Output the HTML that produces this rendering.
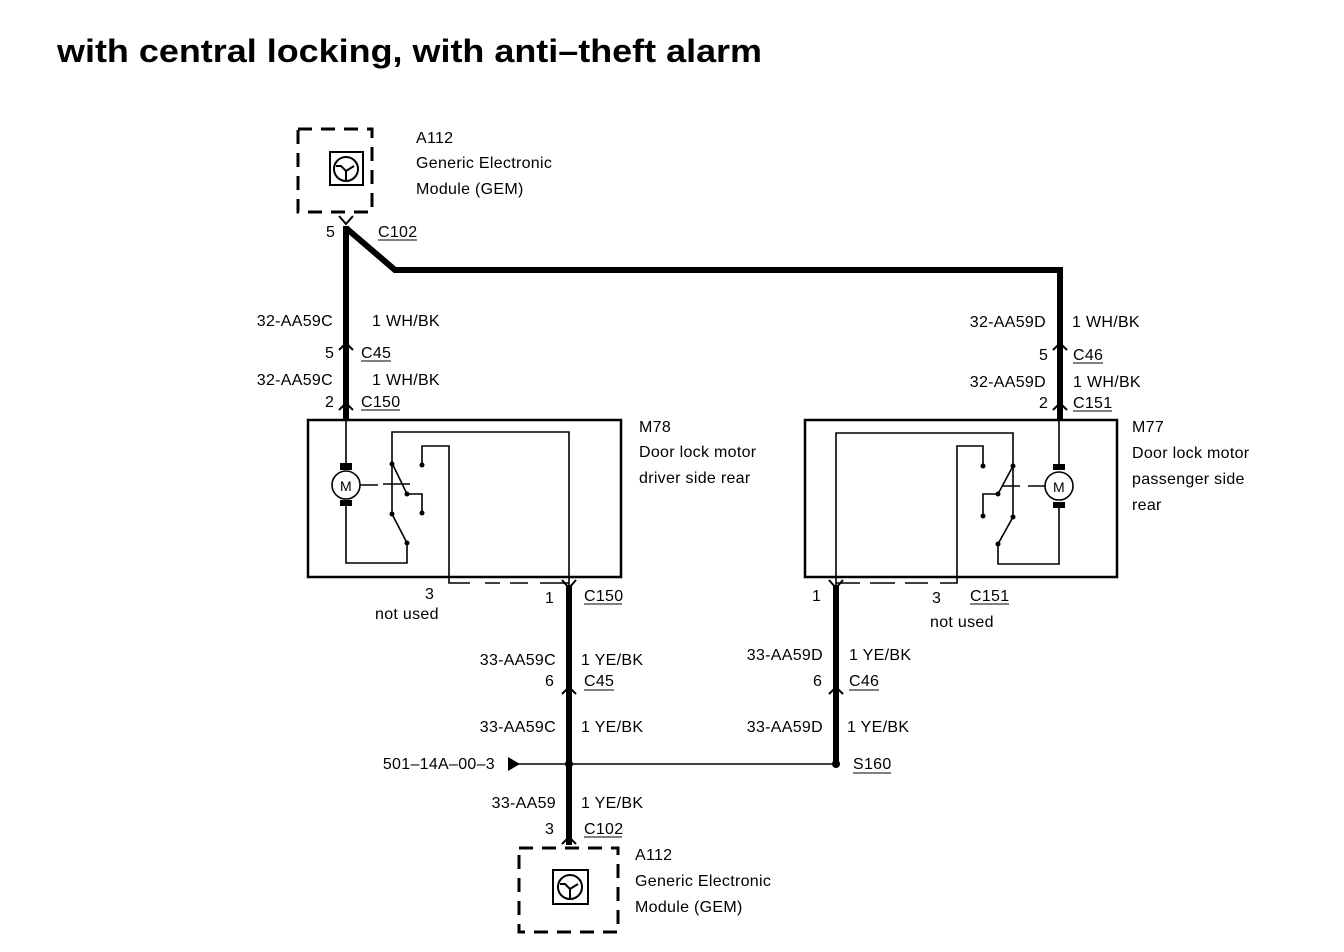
<!DOCTYPE html>
<html><head><meta charset="utf-8"><style>
html,body{margin:0;padding:0;background:#fff;}
svg{display:block}
text{font-family:"Liberation Sans",sans-serif;font-size:16px;letter-spacing:0.3px;fill:#000}
.t{font-size:32px;font-weight:bold;letter-spacing:0}
</style></head><body>
<svg width="1344" height="952" viewBox="0 0 1344 952" xmlns="http://www.w3.org/2000/svg">
<text class="t" x="57" y="62" textLength="705" lengthAdjust="spacingAndGlyphs">with central locking, with anti–theft alarm</text>

<!-- top GEM -->
<rect x="298" y="129" width="74" height="83" fill="none" stroke="#000" stroke-width="3" stroke-dasharray="14,9"/>
<rect x="330" y="152" width="33" height="33" fill="none" stroke="#000" stroke-width="2"/>
<circle cx="346" cy="169" r="12" fill="none" stroke="#000" stroke-width="2"/>
<path d="M336 166 L341 166 L346 171 L354 166 M346 171 V181" fill="none" stroke="#000" stroke-width="2"/>
<text x="416" y="143">A112</text>
<text x="416" y="168">Generic Electronic</text>
<text x="416" y="194">Module (GEM)</text>

<g stroke="#000" stroke-width="6" fill="none">
<path d="M346 226 V420"/>
<path d="M346 228 L395 270 H1060 V420"/>
<path d="M569 585 V845"/>
<path d="M836 585 V764"/>
</g>
<g stroke="#000" stroke-width="2" fill="none">
<path d="M339 216 L346 224 L353 216"/>
<path d="M339 350 L346 343 L353 350"/>
<path d="M339 410 L346 403 L353 410"/>
<path d="M1053 350 L1060 343 L1067 350"/>
<path d="M1053 410 L1060 403 L1067 410"/>
<path d="M562 580 L569 588 L576 580"/>
<path d="M829 580 L836 588 L843 580"/>
<path d="M562 694 L569 687 L576 694"/>
<path d="M829 694 L836 687 L843 694"/>
<path d="M562 844 L569 837 L576 844"/>
</g>
<text x="326" y="237">5</text>
<text x="378" y="237">C102</text><line x1="378" y1="240" x2="417" y2="240" stroke="#000"/>

<text x="333" y="326" text-anchor="end">32-AA59C</text>
<text x="372" y="326">1 WH/BK</text>
<text x="325" y="358">5</text>
<text x="361" y="358">C45</text><line x1="361" y1="361" x2="391" y2="361" stroke="#000"/>
<text x="333" y="385" text-anchor="end">32-AA59C</text>
<text x="372" y="385">1 WH/BK</text>
<text x="325" y="407">2</text>
<text x="361" y="407">C150</text><line x1="361" y1="410" x2="400" y2="410" stroke="#000"/>

<text x="1046" y="327" text-anchor="end">32-AA59D</text>
<text x="1072" y="327">1 WH/BK</text>
<text x="1039" y="360">5</text>
<text x="1073" y="360">C46</text><line x1="1073" y1="363" x2="1103" y2="363" stroke="#000"/>
<text x="1046" y="387" text-anchor="end">32-AA59D</text>
<text x="1073" y="387">1 WH/BK</text>
<text x="1039" y="408">2</text>
<text x="1073" y="408">C151</text><line x1="1073" y1="411" x2="1112" y2="411" stroke="#000"/>

<!-- M78 box -->
<rect x="308" y="420" width="313" height="157" fill="none" stroke="#000" stroke-width="2.5"/>
<text x="639" y="432">M78</text>
<text x="639" y="457">Door lock motor</text>
<text x="639" y="483">driver side rear</text>
<g stroke="#000" stroke-width="1.6" fill="none">
<path d="M346 420 V463"/>
<circle cx="346" cy="485" r="14"/>
<path d="M346 505 V563 H407 V543 L392 514 V432 H569 V585"/>
<path d="M392 463 L407 494 H422 V513"/>
<path d="M422 465 V446 H449 V583 H470"/>
<path d="M485 583 H500 M510 583 H528 M540 583 H569" />
<path d="M360 485 H378 M383 484 H410"/>
</g>
<rect x="340" y="463" width="12" height="7"/><rect x="340" y="500" width="12" height="6"/>
<text x="346" y="491" text-anchor="middle" style="font-size:14px">M</text>
<g><circle cx="392" cy="464" r="2.5"/><circle cx="407" cy="494" r="2.5"/><circle cx="422" cy="465" r="2.5"/><circle cx="392" cy="514" r="2.5"/><circle cx="407" cy="543" r="2.5"/><circle cx="422" cy="513" r="2.5"/></g>
<text x="425" y="599">3</text>
<text x="375" y="619">not used</text>
<text x="545" y="603">1</text>
<text x="584" y="601">C150</text><line x1="584" y1="604" x2="622" y2="604" stroke="#000"/>

<!-- M77 box -->
<rect x="805" y="420" width="312" height="157" fill="none" stroke="#000" stroke-width="2.5"/>
<text x="1132" y="432">M77</text>
<text x="1132" y="458">Door lock motor</text>
<text x="1132" y="484">passenger side</text>
<text x="1132" y="510">rear</text>
<g stroke="#000" stroke-width="1.6" fill="none">
<path d="M1059 420 V464"/>
<circle cx="1059" cy="486" r="14"/>
<path d="M1059 506 V564 H998 V544 L1013 517 V433 H836 V585"/>
<path d="M1013 466 L998 494 H983 V516"/>
<path d="M983 466 V446 H957 V583 H940 M928 583 H905 M895 583 H870 M860 583 H836"/>
<path d="M1003 486 H1020 M1028 486 H1045"/>
</g>
<rect x="1053" y="464" width="12" height="6"/><rect x="1053" y="502" width="12" height="6"/>
<text x="1059" y="492" text-anchor="middle" style="font-size:14px">M</text>
<g><circle cx="1013" cy="466" r="2.5"/><circle cx="998" cy="494" r="2.5"/><circle cx="983" cy="466" r="2.5"/><circle cx="1013" cy="517" r="2.5"/><circle cx="998" cy="544" r="2.5"/><circle cx="983" cy="516" r="2.5"/></g>
<text x="812" y="601">1</text>
<text x="932" y="603">3</text>
<text x="970" y="601">C151</text><line x1="970" y1="604" x2="1009" y2="604" stroke="#000"/>
<text x="930" y="627">not used</text>

<text x="556" y="665" text-anchor="end">33-AA59C</text>
<text x="581" y="665">1 YE/BK</text>
<text x="545" y="686">6</text>
<text x="584" y="686">C45</text><line x1="584" y1="690" x2="614" y2="690" stroke="#000"/>
<text x="556" y="732" text-anchor="end">33-AA59C</text>
<text x="581" y="732">1 YE/BK</text>
<text x="823" y="660" text-anchor="end">33-AA59D</text>
<text x="849" y="660">1 YE/BK</text>
<text x="813" y="686">6</text>
<text x="849" y="686">C46</text><line x1="849" y1="690" x2="879" y2="690" stroke="#000"/>
<text x="823" y="732" text-anchor="end">33-AA59D</text>
<text x="847" y="732">1 YE/BK</text>

<line x1="518" y1="764" x2="836" y2="764" stroke="#000" stroke-width="1.6"/>
<path d="M508 757 L520 764 L508 771 Z"/>
<circle cx="569" cy="764" r="4"/><circle cx="836" cy="764" r="4"/>
<text x="495" y="769" text-anchor="end">501–14A–00–3</text>
<text x="853" y="769">S160</text><line x1="853" y1="773" x2="891" y2="773" stroke="#000"/>

<text x="556" y="808" text-anchor="end">33-AA59</text>
<text x="581" y="808">1 YE/BK</text>
<text x="545" y="834">3</text>
<text x="584" y="834">C102</text><line x1="584" y1="837" x2="622" y2="837" stroke="#000"/>

<!-- bottom GEM -->
<rect x="519" y="848" width="99" height="84" fill="none" stroke="#000" stroke-width="3" stroke-dasharray="14,9"/>
<rect x="553" y="870" width="35" height="34" fill="none" stroke="#000" stroke-width="2"/>
<circle cx="570" cy="887" r="12" fill="none" stroke="#000" stroke-width="2"/>
<path d="M560 884 L565 884 L570 889 L578 884 M570 889 V899" fill="none" stroke="#000" stroke-width="2"/>
<text x="635" y="860">A112</text>
<text x="635" y="886">Generic Electronic</text>
<text x="635" y="912">Module (GEM)</text>
</svg>
</body></html>
